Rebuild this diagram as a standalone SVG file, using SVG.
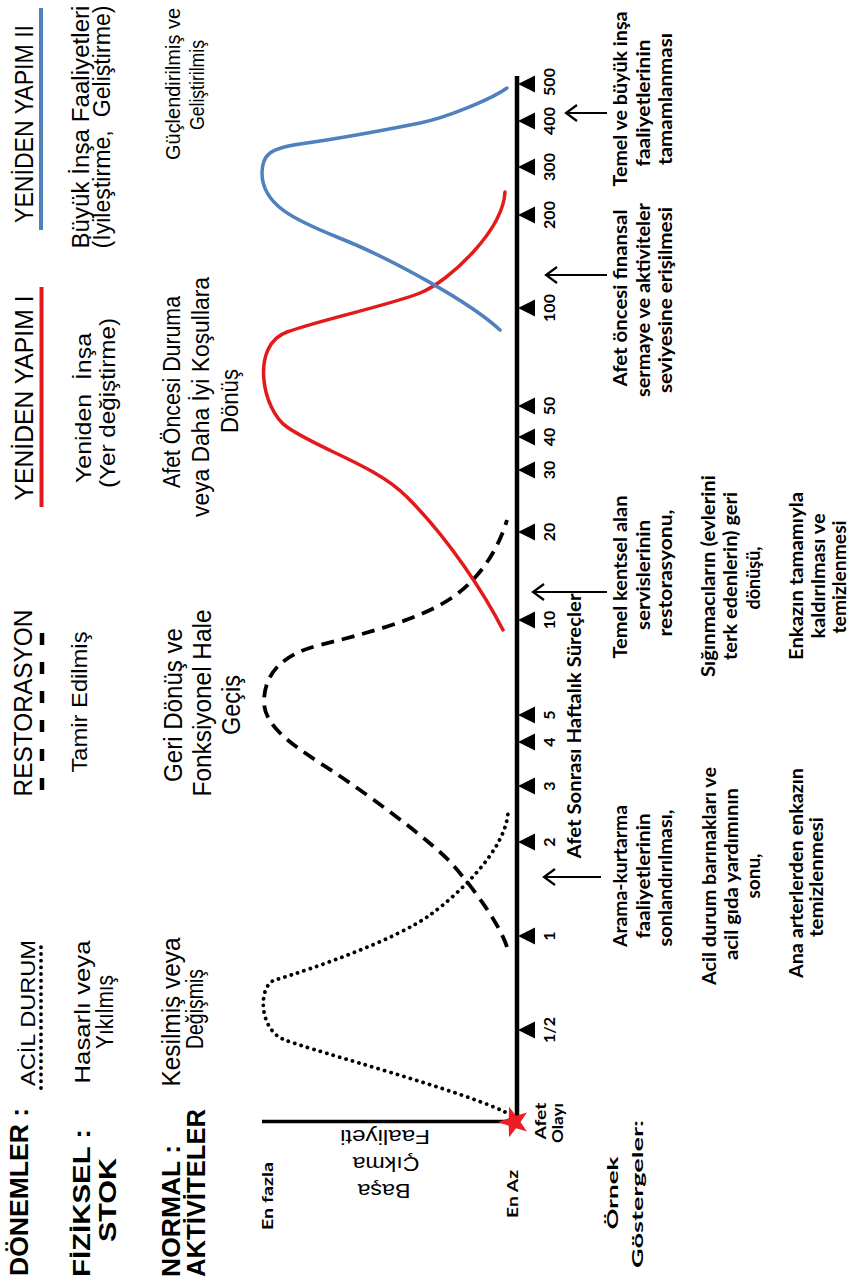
<svg xmlns="http://www.w3.org/2000/svg" width="850" height="1279" viewBox="0 0 850 1279">
<style>
.t{font-family:"Liberation Sans",Arial,sans-serif;fill:#000;text-anchor:middle}
.b{font-weight:bold}
.s{text-anchor:start}
.i{font-family:Lato,"Open Sans",sans-serif;font-weight:700;text-anchor:middle;font-size:18px;fill:#000}
.k{font-family:Lato,"Open Sans",sans-serif;font-weight:700;text-anchor:middle;font-size:16px;fill:#000}
.dot{fill:none;stroke:#000;stroke-width:3.8;stroke-linecap:round;stroke-dasharray:0.1 6.6}
.dash{fill:none;stroke:#000;stroke-width:3.8;stroke-dasharray:13 8}
.red{fill:none;stroke:#e3191c;stroke-width:3.5;stroke-linecap:round}
.blue{fill:none;stroke:#4f81bd;stroke-width:3.5;stroke-linecap:round}
.arr{fill:none;stroke:#000;stroke-width:2.2;marker-end:url(#v)}
.tri{fill:#000}
</style>
<defs>
<marker id="v" markerUnits="userSpaceOnUse" viewBox="-13 -10 15 20" refX="0" refY="0" markerWidth="15" markerHeight="20" orient="auto">
<path d="M-11,-8 L0,0 L-11,8" fill="none" stroke="#000" stroke-width="2.2"/>
</marker>
</defs>
<rect width="850" height="1279" fill="#fff"/>

<g id="header-donemler">
<text class="t b s" font-size="26" textLength="168" lengthAdjust="spacingAndGlyphs" transform="translate(28,1276) rotate(-90)">DÖNEMLER :</text>
</g>
<g id="period-acil">
<text class="t" font-size="21" textLength="146" lengthAdjust="spacingAndGlyphs" transform="translate(35,1013) rotate(-90)">ACİL DURUM</text>
<line class="dot" x1="41" y1="1088" x2="41" y2="945"/>
</g>
<g id="period-restorasyon">
<text class="t" font-size="25" textLength="187" lengthAdjust="spacingAndGlyphs" transform="translate(32,703) rotate(-90)">RESTORASYON</text>
<line x1="42" y1="790" x2="42" y2="628" stroke="#000" stroke-width="4.5" stroke-dasharray="12 17"/>
</g>
<g id="period-yapim1">
<text class="t" font-size="25" textLength="205" lengthAdjust="spacingAndGlyphs" transform="translate(33,398) rotate(-90)">YENİDEN YAPIM I</text>
<line x1="41.5" y1="507" x2="41.5" y2="287" stroke="#e3191c" stroke-width="4"/>
</g>
<g id="period-yapim2">
<text class="t" font-size="25" textLength="198" lengthAdjust="spacingAndGlyphs" transform="translate(33,124) rotate(-90)">YENİDEN YAPIM II</text>
<line x1="41" y1="230" x2="41" y2="8" stroke="#4f81bd" stroke-width="4"/>
</g>

<g id="header-fiziksel">
<text class="t b s" font-size="24" textLength="148" lengthAdjust="spacingAndGlyphs" transform="translate(90,1277) rotate(-90)">FİZİKSEL :</text>
<text class="t b" font-size="24" textLength="84" lengthAdjust="spacingAndGlyphs" transform="translate(116,1200) rotate(-90)">STOK</text>
</g>
<g id="stock-acil">
<text class="t" font-size="22" textLength="143" lengthAdjust="spacingAndGlyphs" transform="translate(90,1012) rotate(-90)">Hasarlı veya</text>
<text class="t" font-size="23" textLength="74" lengthAdjust="spacingAndGlyphs" transform="translate(113,1012) rotate(-90)">Yıkılmış</text>
</g>
<g id="stock-restorasyon">
<text class="t" font-size="22" textLength="141" lengthAdjust="spacingAndGlyphs" transform="translate(87,702) rotate(-90)">Tamir Edilmiş</text>
</g>
<g id="stock-yapim1">
<text class="t" font-size="22" textLength="150" lengthAdjust="spacingAndGlyphs" transform="translate(91,408) rotate(-90)" xml:space="preserve">Yeniden  İnşa</text>
<text class="t" font-size="22" textLength="170" lengthAdjust="spacingAndGlyphs" transform="translate(115,403) rotate(-90)">(Yer değiştirme)</text>
</g>
<g id="stock-yapim2">
<text class="t" font-size="23" textLength="243" lengthAdjust="spacingAndGlyphs" transform="translate(89,127) rotate(-90)">Büyük İnşa Faaliyetleri</text>
<text class="t" font-size="23" textLength="243" lengthAdjust="spacingAndGlyphs" transform="translate(110,127) rotate(-90)" xml:space="preserve">(İyileştirme,  Geliştirme)</text>
</g>

<g id="header-normal">
<text class="t b s" font-size="25" textLength="132" lengthAdjust="spacingAndGlyphs" transform="translate(180,1277) rotate(-90)">NORMAL :</text>
<text class="t b s" font-size="25" textLength="168" lengthAdjust="spacingAndGlyphs" transform="translate(205,1277) rotate(-90)">AKTİVİTELER</text>
</g>
<g id="normal-acil">
<text class="t" font-size="25" textLength="149" lengthAdjust="spacingAndGlyphs" transform="translate(180,1012) rotate(-90)">Kesilmiş veya</text>
<text class="t" font-size="23" textLength="80" lengthAdjust="spacingAndGlyphs" transform="translate(203,1009) rotate(-90)">Değişmiş</text>
</g>
<g id="normal-restorasyon">
<text class="t" font-size="25" textLength="154" lengthAdjust="spacingAndGlyphs" transform="translate(182,705) rotate(-90)">Geri Dönüş ve</text>
<text class="t" font-size="25" textLength="187" lengthAdjust="spacingAndGlyphs" transform="translate(211,703) rotate(-90)">Fonksiyonel Hale</text>
<text class="t" font-size="25" textLength="60" lengthAdjust="spacingAndGlyphs" transform="translate(240,705) rotate(-90)">Geçiş</text>
</g>
<g id="normal-yapim1">
<text class="t" font-size="23" textLength="192" lengthAdjust="spacingAndGlyphs" transform="translate(180,392) rotate(-90)">Afet Öncesi Duruma</text>
<text class="t" font-size="23" textLength="240" lengthAdjust="spacingAndGlyphs" transform="translate(209,397) rotate(-90)">veya Daha İyi Koşullara</text>
<text class="t" font-size="23" textLength="64" lengthAdjust="spacingAndGlyphs" transform="translate(238,401) rotate(-90)">Dönüş</text>
</g>
<g id="normal-yapim2">
<text class="t" font-size="21" textLength="152" lengthAdjust="spacingAndGlyphs" transform="translate(180,84) rotate(-90)">Güçlendirilmiş ve</text>
<text class="t" font-size="21" textLength="90" lengthAdjust="spacingAndGlyphs" transform="translate(204,85) rotate(-90)">Geliştirilmiş</text>
</g>

<g id="chart-axes">
<line x1="262" y1="1121.5" x2="517" y2="1121.5" stroke="#000" stroke-width="3.5"/>
<line x1="517" y1="1122" x2="517" y2="76" stroke="#000" stroke-width="4.5"/>
<text class="k" font-size="17" textLength="68" lengthAdjust="spacingAndGlyphs" transform="translate(273,1196) rotate(-90)">En fazla</text>
<text class="k" font-size="17" textLength="48" lengthAdjust="spacingAndGlyphs" transform="translate(518,1194) rotate(-90)">En Az</text>
<text class="t" font-size="21" textLength="53" lengthAdjust="spacingAndGlyphs" transform="translate(384,1184) rotate(180)">Başa</text>
<text class="t" font-size="21" textLength="67" lengthAdjust="spacingAndGlyphs" transform="translate(386,1157) rotate(180)">Çıkma</text>
<text class="t" font-size="21" textLength="90" lengthAdjust="spacingAndGlyphs" transform="translate(385,1130) rotate(180)">Faaliyeti</text>
</g>

<g id="ticks">
<polygon class="tri" points="518,1030 535,1021.5 535,1038.5"/>
<polygon class="tri" points="518,936 535,927.5 535,944.5"/>
<polygon class="tri" points="518,842 535,833.5 535,850.5"/>
<polygon class="tri" points="518,786 535,777.5 535,794.5"/>
<polygon class="tri" points="518,742 535,733.5 535,750.5"/>
<polygon class="tri" points="518,715 535,706.5 535,723.5"/>
<polygon class="tri" points="518,620 535,611.5 535,628.5"/>
<polygon class="tri" points="518,532 535,523.5 535,540.5"/>
<polygon class="tri" points="518,470 535,461.5 535,478.5"/>
<polygon class="tri" points="518,437 535,428.5 535,445.5"/>
<polygon class="tri" points="518,406 535,397.5 535,414.5"/>
<polygon class="tri" points="518,308 535,299.5 535,316.5"/>
<polygon class="tri" points="518,215 535,206.5 535,223.5"/>
<polygon class="tri" points="518,167 535,158.5 535,175.5"/>
<polygon class="tri" points="518,121 535,112.5 535,129.5"/>
<polygon class="tri" points="518,84 535,75.5 535,92.5"/>
<text class="k" transform="translate(555,1030) rotate(-90)">1/2</text>
<text class="k" transform="translate(555,936) rotate(-90)">1</text>
<text class="k" transform="translate(555,842) rotate(-90)">2</text>
<text class="k" transform="translate(555,786) rotate(-90)">3</text>
<text class="k" transform="translate(555,742) rotate(-90)">4</text>
<text class="k" transform="translate(555,715) rotate(-90)">5</text>
<text class="k" transform="translate(555,620) rotate(-90)">10</text>
<text class="k" transform="translate(555,532) rotate(-90)">20</text>
<text class="k" transform="translate(555,470) rotate(-90)">30</text>
<text class="k" transform="translate(555,437) rotate(-90)">40</text>
<text class="k" transform="translate(555,406) rotate(-90)">50</text>
<text class="k" transform="translate(555,308) rotate(-90)">100</text>
<text class="k" transform="translate(555,215) rotate(-90)">200</text>
<text class="k" transform="translate(555,167) rotate(-90)">300</text>
<text class="k" transform="translate(555,121) rotate(-90)">400</text>
<text class="k" transform="translate(555,82) rotate(-90)">500</text>
<text class="i" textLength="265" lengthAdjust="spacingAndGlyphs" transform="translate(581,726) rotate(-90)">Afet Sonrası Haftalık Süreçler</text>
</g>

<g id="curves">
<path class="dot" d="M505,1112 C460,1090 320,1053 285,1040 C258,1030 258,985 275,980 C315,968 395,940 430,915 C460,893 505,850 508,813"/>
<path class="dash" d="M507,947 C500,925 475,890 453,865 C431,840 355,785 320,763 C290,743 263,725 264,700 C265,675 280,655 320,645 C360,635 420,620 453,597 C480,578 498,550 507,520"/>
<path class="red" d="M503,630 C485,595 450,540 407,497 C375,465 320,450 287,427 C262,410 250,345 287,332 C320,320 390,305 420,293 C450,281 503,230 505,192"/>
<path class="blue" d="M500,330 C470,302 390,258 337,237 C295,220 262,205 262,173 C262,155 270,148 300,144 C350,137 395,128 420,123 C445,118 490,100 507,88"/>
</g>

<g id="event">
<polygon points="498,1122 508.74,1118.18 509.06,1106.78 516.01,1115.82 526.94,1112.59 520.5,1122 526.94,1131.41 516.01,1128.18 509.06,1137.22 508.74,1125.82" fill="#ee1c25"/>
<text class="k" font-size="17" textLength="37" lengthAdjust="spacingAndGlyphs" transform="translate(546,1121) rotate(-90)">Afet</text>
<text class="k" font-size="17" textLength="40" lengthAdjust="spacingAndGlyphs" transform="translate(563,1123) rotate(-90)">Olayı</text>
</g>

<g id="ornek">
<text class="k" font-size="24" textLength="73" lengthAdjust="spacingAndGlyphs" transform="translate(618,1193) rotate(-90)">Örnek</text>
<text class="k" font-size="24" textLength="148" lengthAdjust="spacingAndGlyphs" transform="translate(643,1194) rotate(-90)">Göstergeler:</text>
</g>

<g id="ind-arama">
<text class="i" textLength="142" lengthAdjust="spacingAndGlyphs" transform="translate(627,876) rotate(-90)">Arama-kurtarma</text>
<text class="i" textLength="125" lengthAdjust="spacingAndGlyphs" transform="translate(650,876) rotate(-90)">faaliyetlerinin</text>
<text class="i" textLength="137" lengthAdjust="spacingAndGlyphs" transform="translate(672,878) rotate(-90)">sonlandırılması,</text>
</g>
<g id="ind-barinak">
<text class="i" textLength="218" lengthAdjust="spacingAndGlyphs" transform="translate(716,876) rotate(-90)">Acil durum barınakları ve</text>
<text class="i" textLength="172" lengthAdjust="spacingAndGlyphs" transform="translate(738,874) rotate(-90)">acil gıda yardımının</text>
<text class="i" textLength="45" lengthAdjust="spacingAndGlyphs" transform="translate(760,876) rotate(-90)">sonu,</text>
</g>
<g id="ind-arter">
<text class="i" textLength="210" lengthAdjust="spacingAndGlyphs" transform="translate(803,873) rotate(-90)">Ana arterlerden enkazın</text>
<text class="i" textLength="120" lengthAdjust="spacingAndGlyphs" transform="translate(823,877) rotate(-90)">temizlenmesi</text>
</g>
<g id="ind-kentsel">
<text class="i" textLength="163" lengthAdjust="spacingAndGlyphs" transform="translate(627,577) rotate(-90)">Temel kentsel alan</text>
<text class="i" textLength="110" lengthAdjust="spacingAndGlyphs" transform="translate(650,575) rotate(-90)">servislerinin</text>
<text class="i" textLength="127" lengthAdjust="spacingAndGlyphs" transform="translate(672,573) rotate(-90)">restorasyonu,</text>
</g>
<g id="ind-siginmaci">
<text class="i" textLength="202" lengthAdjust="spacingAndGlyphs" transform="translate(715,576) rotate(-90)">Sığınmacıların (evlerini</text>
<text class="i" textLength="168" lengthAdjust="spacingAndGlyphs" transform="translate(737,576) rotate(-90)">terk edenlerin) geri</text>
<text class="i" textLength="63" lengthAdjust="spacingAndGlyphs" transform="translate(760,578) rotate(-90)">dönüşü,</text>
</g>
<g id="ind-enkaz">
<text class="i" textLength="168" lengthAdjust="spacingAndGlyphs" transform="translate(803,576) rotate(-90)">Enkazın tamamıyla</text>
<text class="i" textLength="125" lengthAdjust="spacingAndGlyphs" transform="translate(825,576) rotate(-90)">kaldırılması ve</text>
<text class="i" textLength="113" lengthAdjust="spacingAndGlyphs" transform="translate(846,577) rotate(-90)">temizlenmesi</text>
</g>
<g id="ind-finansal">
<text class="i" textLength="177" lengthAdjust="spacingAndGlyphs" transform="translate(627,298) rotate(-90)">Afet öncesi finansal</text>
<text class="i" textLength="194" lengthAdjust="spacingAndGlyphs" transform="translate(650,300) rotate(-90)">sermaye ve aktiviteler</text>
<text class="i" textLength="186" lengthAdjust="spacingAndGlyphs" transform="translate(672,300) rotate(-90)">seviyesine erişilmesi</text>
</g>
<g id="ind-insa">
<text class="i" textLength="175" lengthAdjust="spacingAndGlyphs" transform="translate(627,99) rotate(-90)">Temel ve büyük inşa</text>
<text class="i" textLength="127" lengthAdjust="spacingAndGlyphs" transform="translate(650,103) rotate(-90)">faaliyetlerinin</text>
<text class="i" textLength="132" lengthAdjust="spacingAndGlyphs" transform="translate(672,99) rotate(-90)">tamamlanması</text>
</g>

<g id="connectors">
<line class="arr" x1="601" y1="877" x2="544" y2="877"/>
<line class="arr" x1="607" y1="592" x2="533" y2="592"/>
<line class="arr" x1="607" y1="275" x2="546" y2="275"/>
<line class="arr" x1="607" y1="113" x2="566" y2="113"/>
</g>
</svg>
